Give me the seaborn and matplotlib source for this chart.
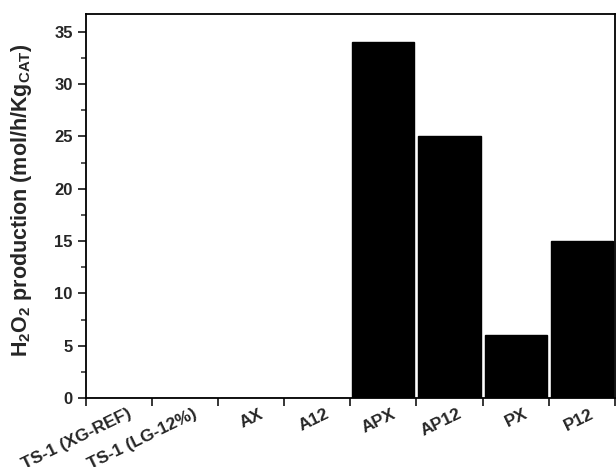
import numpy as np
import pandas as pd
import matplotlib
matplotlib.use('Agg')
import matplotlib.pyplot as plt
import matplotlib.transforms as mtransforms
import seaborn as sns
from matplotlib.ticker import MultipleLocator, FixedLocator

sns.set_style('ticks')
plt.rcParams['font.family'] = ['Liberation Sans', 'DejaVu Sans']
plt.rcParams['mathtext.fontset'] = 'custom'
plt.rcParams['mathtext.rm'] = 'Liberation Sans:bold'
plt.rcParams['mathtext.default'] = 'rm'

# data
catalysts = ['TS-1 (XG-REF)', 'TS-1 (LG-12%)', 'AX', 'A12', 'APX', 'AP12', 'PX', 'P12']
production = [0, 0, 0, 0, 34, 25, 6, 15]

df = pd.DataFrame({'catalyst': catalysts, 'h2o2': production})

fig = plt.figure(figsize=(6.16, 4.67), dpi=100)
ax = fig.add_axes([0.1396, 0.1478, 0.8584, 0.822])

sns.barplot(data=df, x='catalyst', y='h2o2', color='black', width=0.94,
            saturation=1, ax=ax, edgecolor='black')

ax.set_xlim(-0.5, len(catalysts) - 0.5)
ax.set_ylim(0, 36.7)

# labels at bar centres, tick marks at bar edges
ax.set_xticks(np.arange(len(catalysts)))
ax.set_xticklabels(catalysts, rotation=26, ha='right', va='top',
                   rotation_mode='anchor', fontsize=12.5, fontweight='bold')
ax.tick_params(axis='x', which='major', length=0, pad=6)
shift = mtransforms.ScaledTranslation(0.08, 0, fig.dpi_scale_trans)
for lbl in ax.get_xticklabels():
    lbl.set_transform(lbl.get_transform() + shift)
ax.xaxis.set_minor_locator(FixedLocator(np.arange(len(catalysts) + 1) - 0.5))
ax.tick_params(axis='x', which='minor', length=6, width=1.3, direction='out')

ax.yaxis.set_major_locator(MultipleLocator(5))
ax.yaxis.set_minor_locator(MultipleLocator(2.5))
ax.tick_params(axis='y', which='major', length=6, width=1.3, labelsize=12)
ax.tick_params(axis='y', which='minor', length=3.5, width=1.1)
for lbl in ax.get_yticklabels():
    lbl.set_fontweight('bold')

ax.set_xlabel('')
ax.set_ylabel('H$_2$O$_2$ production (mol/h/Kg$_{CAT}$)', fontsize=15.5,
              fontweight='bold')
ax.yaxis.set_label_coords(-0.098, 0.516)

for s in ax.spines.values():
    s.set_linewidth(1.3)
    s.set_color('black')

fig.savefig('out.png', dpi=100)
